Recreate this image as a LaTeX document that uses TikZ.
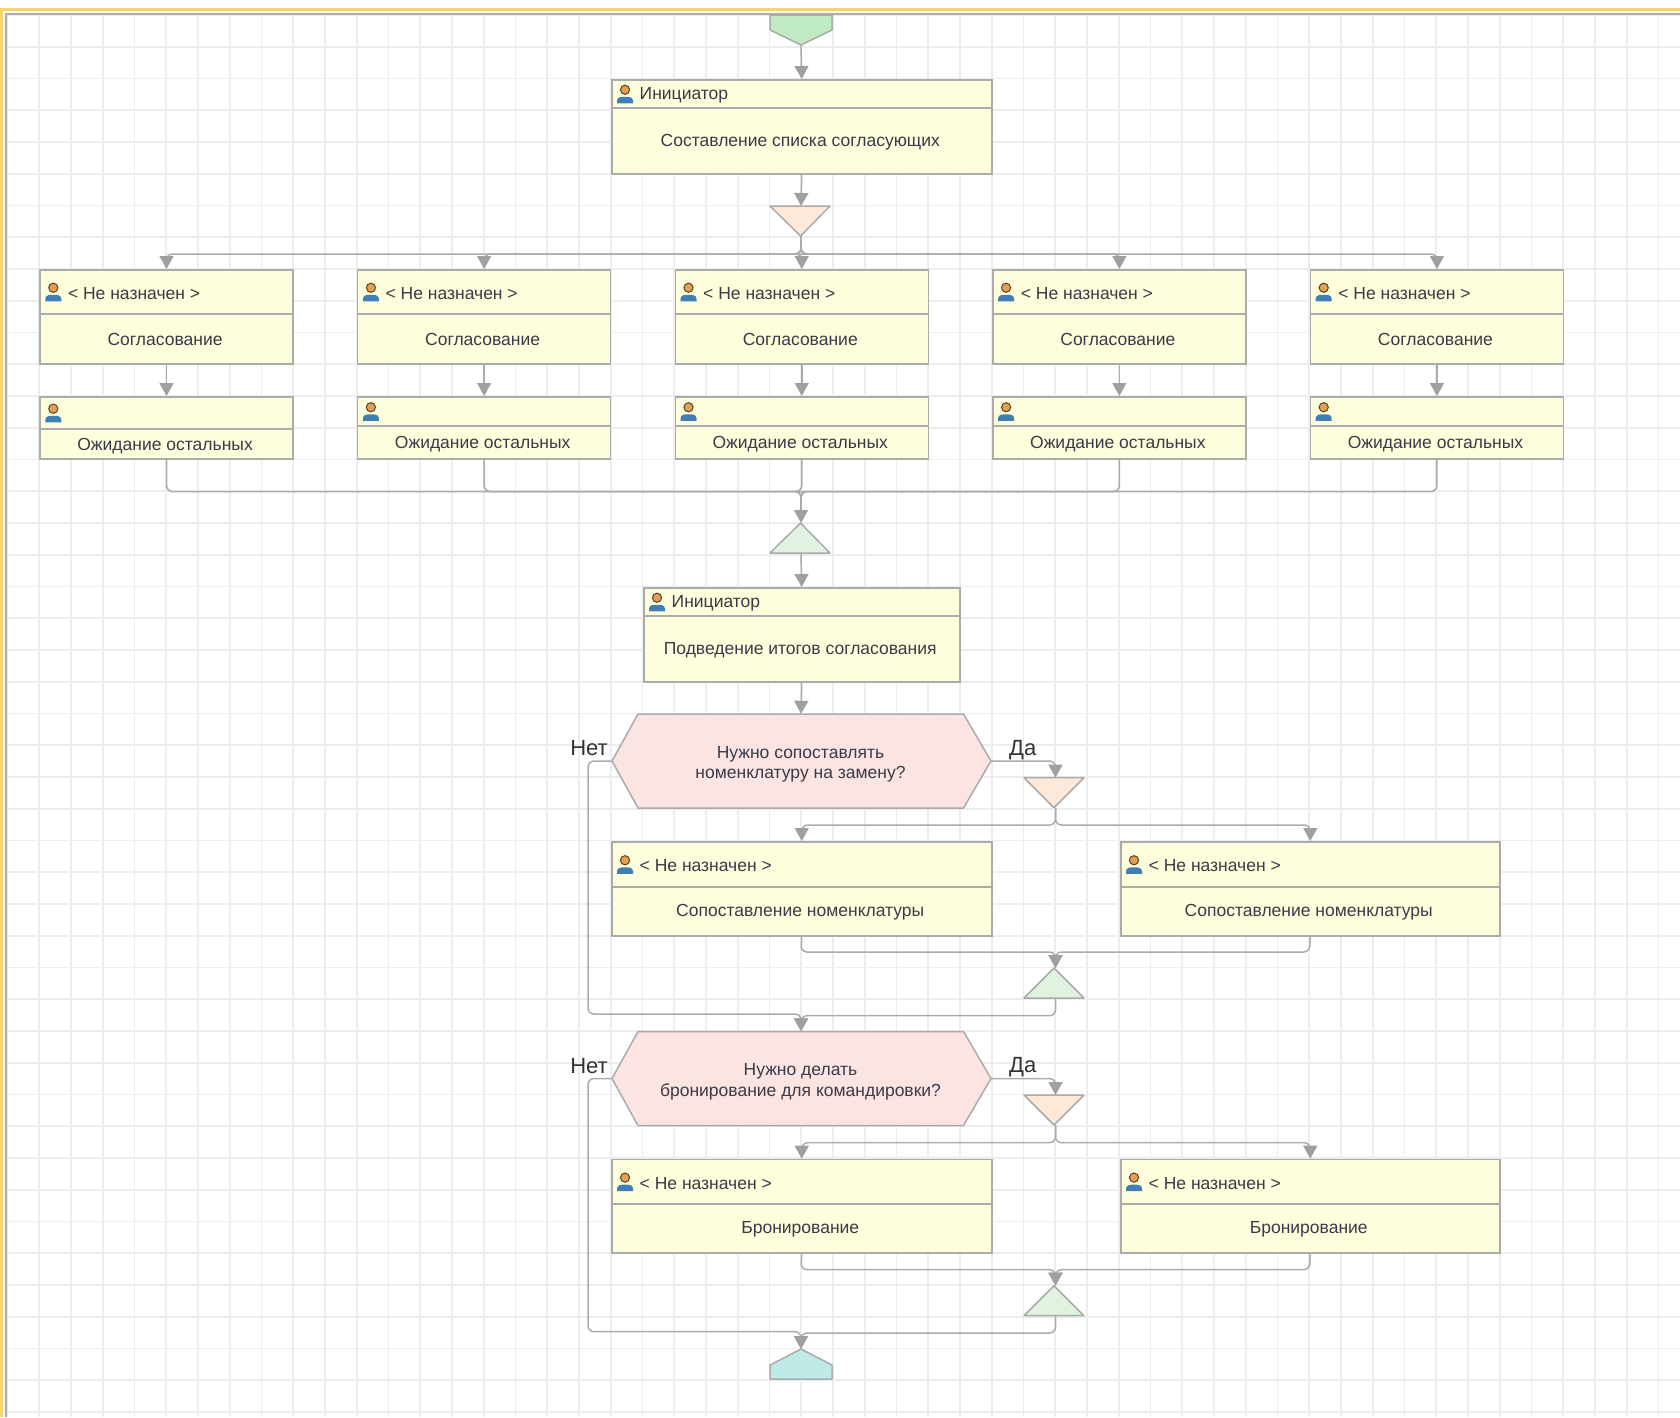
\documentclass[tikz,border=0pt]{standalone}
\usepackage{fontspec}
\setmainfont{Liberation Sans}
\usepackage{tikz}
\usetikzlibrary{arrows.meta}
\definecolor{boxfill}{HTML}{FEFEDC}
\definecolor{boxline}{HTML}{ABABAB}
\definecolor{flowline}{HTML}{ABABAB}
\definecolor{tipgray}{HTML}{A0A0A0}
\definecolor{gridgray}{HTML}{EDEDED}
\definecolor{framegold}{HTML}{F6D56F}
\definecolor{askfill}{HTML}{FBE4E1}
\definecolor{splitfill}{HTML}{FCE9DA}
\definecolor{mergefill}{HTML}{DFF3E0}
\definecolor{startfill}{HTML}{BFEAC4}
\definecolor{stopfill}{HTML}{BFEBE6}
\definecolor{bodyblue}{HTML}{3F7FB5}
\definecolor{headtan}{HTML}{E3A055}
\definecolor{inktext}{HTML}{3A3A48}

\begin{document}
\begin{tikzpicture}[x=1pt,y=-1pt,
    gridline/.style={gridgray,line width=1.7pt},
    flow/.style={flowline,line width=1.5pt,rounded corners=6pt},
    arrowflow/.style={flow,-{Triangle[length=13pt,width=14pt,color=tipgray]}},
    taskbox/.style={draw=boxline,fill=boxfill,line width=1.5pt,rectangle,inner sep=0pt,anchor=north west},
    tasktext/.style={font=\fontsize{17.5}{20.5}\selectfont,text=inktext,inner sep=0pt},
    branchtext/.style={font=\fontsize{22}{24}\selectfont,text=black!80,inner sep=0pt},
    shapeline/.style={draw=boxline,line width=1.5pt,line join=round},
    usericon/.pic={
        \fill[bodyblue] (-8,9.5) -- (-8,7) .. controls (-8,3) and (-3,3) .. (0,3) .. controls (3,3) and (8,3) .. (8,7) -- (8,9.5) -- cycle;
        \fill[headtan,draw=black!60!headtan,line width=1pt] (0,-4) circle [radius=4.6];
    }]

\useasboundingbox (0,0) rectangle (1680,1417);
\fill[white] (0,0) rectangle (1680,1417);

% grid
\begin{scope}
\clip (7,15) rectangle (1680,1417);
\foreach \i in {0,...,52}
{
\draw[gridline] ({7.5+31.75*\i},15) -- ({7.5+31.75*\i},1417);
}
\foreach \i in {0,...,44}
{
\draw[gridline] (7,{15+31.75*\i}) -- (1680,{15+31.75*\i});
}
\end{scope}

% frame
\draw[framegold,line width=2.5pt] (1680,9.3) -- (1.3,9.3) -- (1.3,1417);
\draw[boxline,line width=2.5pt] (1680,14) -- (6,14) -- (6,1417);

% start and stop
\draw[shapeline,fill=startfill] (770,15) -- (770,30) -- (801,45) -- (832,30) -- (832,15) -- cycle;
\coordinate (start) at (801,45);
\draw[shapeline,fill=stopfill] (770,1379) -- (770,1365) -- (801,1349) -- (832,1365) -- (832,1379) -- cycle;
\coordinate (stop) at (801,1349);

% tasks: name/left/top/width/divider/bottom/who/what
\foreach \nm/\lx/\ty/\bw/\dv/\bt/\who/\what in {
  first/611/79/380/107/173/{Инициатор}/{Составление списка согласующих},
  sum/643/587/316/615/681/{Инициатор}/{Подведение итогов согласования},
  mapa/611/841/380/886/935/{< Не назначен >}/{Сопоставление номенклатуры},
  mapb/1120/841/379/886/935/{< Не назначен >}/{Сопоставление номенклатуры},
  booka/611/1158.7/380/1203/1252/{< Не назначен >}/{Бронирование},
  bookb/1120/1158.7/379/1203/1252/{< Не назначен >}/{Бронирование}}
{
\node (body\nm) [taskbox,minimum width=\bw,minimum height=\bt-\dv] at (\lx,\dv) {};
\node (head\nm) [taskbox,minimum width=\bw,minimum height=\dv-\ty] at (\lx,\ty) {};
\pic at ([xshift=14]head\nm.west) {usericon};
\node (who\nm) [tasktext,anchor=west] at ([xshift=28.5,yshift=-1.5]head\nm.west) {\who};
\node (what\nm) [tasktext] at ([xshift=-1.5,yshift=-1]body\nm.center) {\what};
}

% the five columns
\foreach \k in {0,...,4}
{
\pgfmathsetmacro{\lx}{39.3+317.6*\k}
\pgfmathsetmacro{\dw}{\k==0 ? 428 : 425}
\node (bodyagree\k) [taskbox,minimum width=253,minimum height=50] at (\lx,313) {};
\node (headagree\k) [taskbox,minimum width=253,minimum height=44] at (\lx,269) {};
\pic at ([xshift=14]headagree\k.west) {usericon};
\node (whoagree\k) [tasktext,anchor=west] at ([xshift=28.5,yshift=-1.5]headagree\k.west) {< Не назначен >};
\node (whatagree\k) [tasktext] at ([xshift=-1.5,yshift=-1]bodyagree\k.center) {Согласование};
\node (bodywait\k) [taskbox,minimum width=253,minimum height=458-\dw] at (\lx,\dw) {};
\node (headwait\k) [taskbox,minimum width=253,minimum height=\dw-396] at (\lx,396) {};
\pic at ([xshift=14]headwait\k.west) {usericon};
\node (whatwait\k) [tasktext] at ([xshift=-1.5,yshift=-2]bodywait\k.center) {Ожидание остальных};
}

% forks and merges
\draw[shapeline,fill=splitfill] (770,206) -- (830,206) -- (800.5,236) -- cycle;
\coordinate (forkmain) at (801,206);
\coordinate (forkmainout) at (801,236);
\draw[shapeline,fill=mergefill] (770,553) -- (830,553) -- (800.5,523) -- cycle;
\coordinate (joinmain) at (801,523);
\coordinate (joinmainout) at (801,553);

\foreach \nm/\ty in {a/777.7,b/1095}
{
\draw[shapeline,fill=splitfill] (1024,\ty) -- (1084,\ty) -- (1054,\ty+30) -- cycle;
\coordinate (fork\nm) at (1055.5,\ty);
\coordinate (fork\nm out) at (1055.5,\ty+30);
}
\foreach \nm/\ty in {a/968,b/1285.7}
{
\draw[shapeline,fill=mergefill] (1024,\ty+30) -- (1084,\ty+30) -- (1054,\ty) -- cycle;
\coordinate (join\nm) at (1055.5,\ty);
\coordinate (join\nm out) at (1055.5,\ty+30);
}

% questions
\foreach \nm/\my/\ask in {
  aska/761/{Нужно сопоставлять\\номенклатуру на замену?},
  askb/1078.5/{Нужно делать\\бронирование для командировки?}}
{
\draw[shapeline,fill=askfill] (612,\my) -- (638,\my-47) -- (963.5,\my-47) -- (991,\my) -- (963.5,\my+47) -- (638,\my+47) -- cycle;
\node (\nm) [tasktext,align=center,minimum width=379,minimum height=94] at (801,\my) {};
\node (text\nm) [tasktext,align=center] at (800.5,\my+3.5) {\ask};
\node (yes\nm) [branchtext,anchor=west] at (1009,\my-11) {Да};
\node (no\nm) [branchtext,anchor=east] at (608,\my-12.5) {Нет};
}

% connectors
\draw[arrowflow] (start) -- (headfirst.north);
\draw[arrowflow] (bodyfirst.south) -- (forkmain);
\draw[arrowflow] (joinmainout) -- (headsum.north);
\draw[arrowflow] (bodysum.south) -- (aska.north);
\foreach \k in {0,...,4}
{
\draw[arrowflow] (forkmainout) -- (801,254) -- (headagree\k.north |- 0,254) -- (headagree\k.north);
\draw[arrowflow] (bodyagree\k.south) -- (headwait\k.north);
\draw[flow] (bodywait\k.south) -- (bodywait\k.south |- 0,491.5) -- (801,491.5) -- (801,505);
}
\draw[arrowflow] (801,500) -- (joinmain);

% first question
\draw[arrowflow] (aska.east) -- (1055.5,761) -- (forka);
\draw[arrowflow] (forkaout) -- (1055.5,825) -- (headmapa.north |- 0,825) -- (headmapa.north);
\draw[arrowflow] (forkaout) -- (1055.5,825) -- (headmapb.north |- 0,825) -- (headmapb.north);
\draw[arrowflow] (bodymapa.south) -- (801,952) -- (1055.5,952) -- (joina);
\draw[arrowflow] (bodymapb.south) -- (1309.5,952) -- (1055.5,952) -- (joina);
\draw[arrowflow] (joinaout) -- (1055.5,1015.7) -- (801,1015.7) -- (askb.north);
\draw[arrowflow] (aska.west) -- (588,761) -- (588,1014) -- (801,1014) -- (askb.north);

% second question
\draw[arrowflow] (askb.east) -- (1055.5,1078.5) -- (forkb);
\draw[arrowflow] (forkbout) -- (1055.5,1142.7) -- (headbooka.north |- 0,1142.7) -- (headbooka.north);
\draw[arrowflow] (forkbout) -- (1055.5,1142.7) -- (headbookb.north |- 0,1142.7) -- (headbookb.north);
\draw[arrowflow] (bodybooka.south) -- (801,1269.7) -- (1055.5,1269.7) -- (joinb);
\draw[arrowflow] (bodybookb.south) -- (1309.5,1269.7) -- (1055.5,1269.7) -- (joinb);
\draw[arrowflow] (joinbout) -- (1055.5,1333) -- (801,1333) -- (stop);
\draw[arrowflow] (askb.west) -- (588,1078.5) -- (588,1331.7) -- (801,1331.7) -- (stop);

\end{tikzpicture}
\end{document}
